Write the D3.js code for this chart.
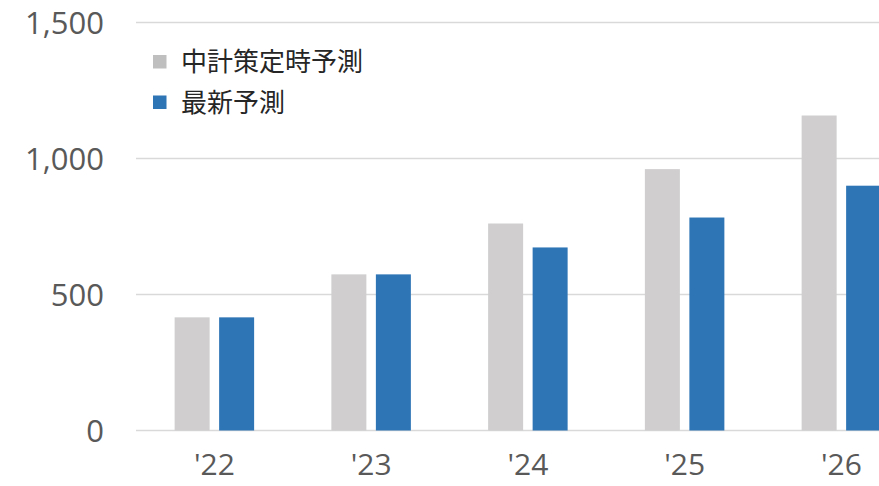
<!DOCTYPE html>
<html><head><meta charset="utf-8">
<script src="https://cdn.jsdelivr.net/npm/d3@7"></script>
<style>body{margin:0;background:#fff}svg{display:block}</style>
</head><body>
<script>
const categories = ["'22","'23","'24","'25","'26"];
const seriesNames = ["中計策定時予測","最新予測"];
const planValues = [416, 574, 761, 961, 1158];
const latestValues = [416, 574, 673, 783, 900];
const yTicks = [0, 500, 1000, 1500];
const colors = ["#D0CECE", "#2E75B6"];

const W = 879, H = 486;
const svg = d3.select("body").append("svg").attr("width", W).attr("height", H);

const y = d3.scaleLinear().domain([0, 1500]).range([430.5, 22.5]);
const x0 = d3.scaleBand().domain(categories).range([136, 919.75]).paddingInner(0.4928).paddingOuter(0.2464);
const x1 = d3.scaleBand().domain(seriesNames).range([0, x0.bandwidth()]).paddingInner(0.2135);

// gridlines
svg.append("g").selectAll("line").data(yTicks).join("line")
  .attr("x1", 136).attr("x2", W)
  .attr("y1", d => y(d)).attr("y2", d => y(d))
  .attr("stroke", "#D9D9D9").attr("stroke-width", 1.3);

// y labels
const yAxis = d3.axisLeft(y).tickValues(yTicks).tickFormat(d3.format(",")).tickSize(0).tickPadding(0);
const gy = svg.append("g").attr("transform", "translate(104,1)").call(yAxis);
gy.select(".domain").remove();
gy.selectAll("text").attr("fill", "#595959").style("font-family", "'Open Sans','Noto Sans',sans-serif").style("font-size", "31px");

// x labels
const xAxis = d3.axisBottom(x0).tickSize(0).tickPadding(0);
const gx = svg.append("g").attr("transform", "translate(0,454)").call(xAxis);
gx.select(".domain").remove();
gx.selectAll("text").attr("fill", "#595959").style("font-family", "'Open Sans','Noto Sans',sans-serif").style("font-size", "30px");

// bars
const data = categories.map((c, i) => ({c, vals: [planValues[i], latestValues[i]]}));
const groups = svg.append("g").selectAll("g").data(data).join("g")
  .attr("transform", d => `translate(${x0(d.c)},0)`);
groups.selectAll("rect").data(d => d.vals.map((v, j) => ({s: seriesNames[j], v, j})))
  .join("rect")
  .attr("x", d => x1(d.s)).attr("width", x1.bandwidth())
  .attr("y", d => y(d.v)).attr("height", d => y(0) - y(d.v))
  .attr("fill", d => colors[d.j]);

// legend
const lg = svg.append("g").selectAll("g").data(seriesNames).join("g")
  .attr("transform", (d, i) => `translate(153,${55 + i * 40.5})`);
lg.append("rect").attr("width", 13.5).attr("height", 13.5).attr("fill", (d, i) => i === 0 ? "#BFBFBF" : colors[1]);
lg.append("text").attr("x", 28).attr("y", 6.8).attr("dy", "0.36em")
  .text(d => d).attr("fill", "#262626")
  .style("font-family", "'Noto Sans CJK JP',sans-serif").style("font-size", "26px");
</script>
</body></html>
